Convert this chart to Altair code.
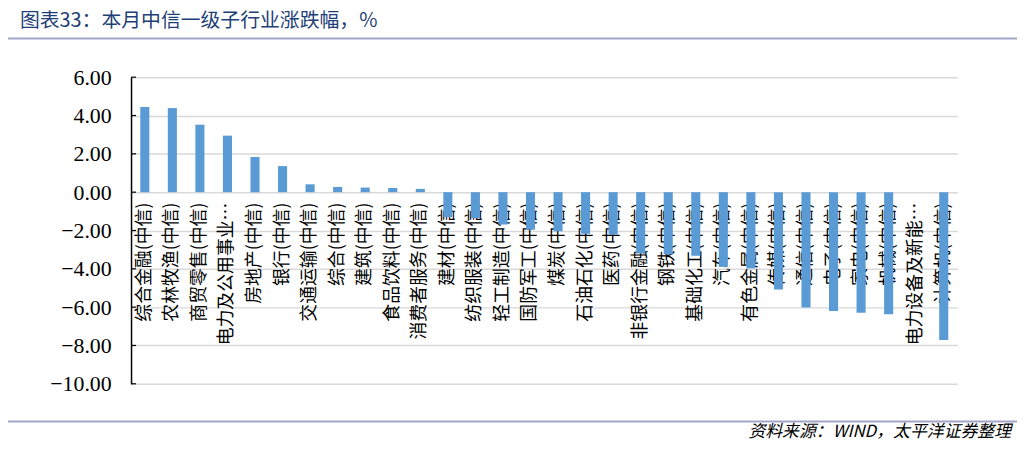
import altair as alt
import pandas as pd

title_text = "图表33：本月中信一级子行业涨跌幅，%"
source_text = "资料来源：WIND，太平洋证券整理"

categories = [
    "综合金融(中信)", "农林牧渔(中信)", "商贸零售(中信)", "电力及公用事业…",
    "房地产(中信)", "银行(中信)", "交通运输(中信)", "综合(中信)", "建筑(中信)",
    "食品饮料(中信)", "消费者服务(中信)", "建材(中信)", "纺织服装(中信)",
    "轻工制造(中信)", "国防军工(中信)", "煤炭(中信)", "石油石化(中信)",
    "医药(中信)", "非银行金融(中信)", "钢铁(中信)", "基础化工(中信)",
    "汽车(中信)", "有色金属(中信)", "传媒(中信)", "通信(中信)", "电子(中信)",
    "家电(中信)", "机械(中信)", "电力设备及新能…", "计算机(中信)",
]
values = [
    4.45, 4.39, 3.52, 2.95, 1.83, 1.36, 0.41, 0.27, 0.24, 0.22, 0.17,
    -1.30, -1.35, -1.69, -1.96, -2.04, -2.17, -2.22, -3.20, -3.25, -3.32,
    -3.90, -3.98, -5.08, -6.02, -6.20, -6.29, -6.37, None, -7.72,
]
y_ticks = [-10, -8, -6, -4, -2, 0, 2, 4, 6]

df = pd.DataFrame({"industry": categories, "change": values})
ticks_df = pd.DataFrame({"v": y_ticks})

W, H = 833, 309
y_min, y_max = -10, 6
zero_px = H * y_max / (y_max - y_min)
y_scale = alt.Scale(domain=[y_min, y_max], nice=False, zero=False)
y_axis = alt.Axis(
    title=None, values=y_ticks, format=".2f", ticks=False, labelPadding=20,
    labelFont="Times New Roman, Liberation Serif, serif", labelFontSize=22,
    labelColor="#000000", labelOverlap=False, labelFlush=False,
    domain=True, domainColor="#000000", domainWidth=1.5,
    grid=True, gridColor="#d9d9d9", gridWidth=1.5,
)

bars = alt.Chart(df).mark_bar(color="#5b9bd5").encode(
    x=alt.X(
        "industry:N",
        sort=categories,
        scale=alt.Scale(domain=categories, paddingInner=0.67, paddingOuter=0.335),
        axis=alt.Axis(
            title=None, orient="bottom", offset=-(H - zero_px), domain=False, ticks=False,
            labelAngle=270, labelAlign="right", labelBaseline="middle", labelPadding=10,
            labelFont="Noto Sans CJK SC", labelFontSize=18, labelColor="#000000",
            labelLimit=0, labelOverlap=False, grid=False,
        ),
    ),
    y=alt.Y("change:Q", scale=y_scale, axis=y_axis),
)

inner_ticks = alt.Chart(ticks_df).mark_rule(color="#000000", strokeWidth=1.2).encode(
    y=alt.Y("v:Q", scale=y_scale, axis=y_axis),
    x=alt.value(0),
    x2=alt.value(5),
)

one = pd.DataFrame({"t": [title_text]})
src = pd.DataFrame({"t": [source_text]})
dummy = pd.DataFrame({"a": [0]})

title = alt.Chart(one).mark_text(
    align="left", baseline="middle", font="Noto Sans CJK SC", fontSize=20,
    color="#1f3f77",
).encode(text="t:N", x=alt.value(-112), y=alt.value(-57))

top_line = alt.Chart(dummy).mark_rule(color="#a3a6c8", strokeWidth=2).encode(
    x=alt.value(-127), x2=alt.value(893), y=alt.value(-39)
)
bottom_line = alt.Chart(dummy).mark_rule(color="#a3a6c8", strokeWidth=2).encode(
    x=alt.value(-127), x2=alt.value(893), y=alt.value(347)
)
source = alt.Chart(src).mark_text(
    align="right", baseline="middle", font="Noto Sans CJK SC", fontSize=17,
    fontStyle="italic", color="#000000",
).encode(text="t:N", x=alt.value(887), y=alt.value(358))

chart = alt.layer(bars, inner_ticks, title, top_line, bottom_line, source).properties(
    width=W, height=H,
    background="#ffffff",
    padding={"left": 124, "top": 68, "right": 66, "bottom": 65},
    autosize=alt.AutoSizeParams(type="none"),
).configure_view(stroke=None)

chart.save("out.html", embed_options={"renderer": "svg", "actions": False})
